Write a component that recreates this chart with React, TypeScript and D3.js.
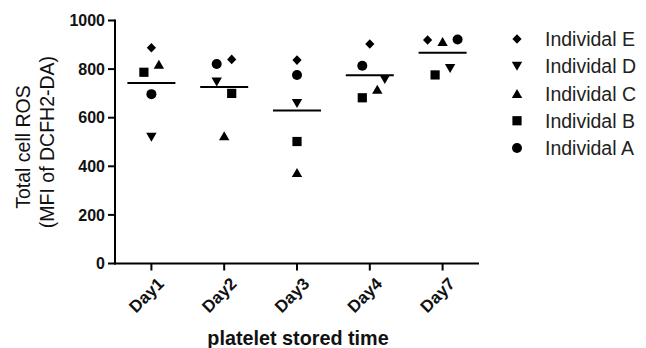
import React from "react";
import * as d3 from "d3";

const days = ["Day1", "Day2", "Day3", "Day4", "Day7"];
const individuals = ["Individal E", "Individal D", "Individal C", "Individal B", "Individal A"];
const symbolsOf = ["diamond", "down", "up", "square", "circle"];
const valuesE = [888, 840, 837, 903, 920];
const valuesD = [520, 747, 659, 758, 803];
const valuesC = [820, 525, 374, 717, 913];
const valuesB = [787, 700, 502, 682, 776];
const valuesA = [697, 821, 776, 814, 922];
const series = [valuesE, valuesD, valuesC, valuesB, valuesA];
// horizontal scatter offsets (in symbol half-widths) per individual per day, as in the dot plot
const jitterE = [0, 1, 0, 0, -2];
const jitterD = [0, -1, 0, 2, 1];
const jitterC = [1, 0, 0, 1, 0];
const jitterB = [-1, 1, 0, -1, -1];
const jitterA = [0, -1, 0, -1, 2];
const jitter = [jitterE, jitterD, jitterC, jitterB, jitterA];
const yTicks = [0, 200, 400, 600, 800, 1000];

const W = 646, H = 348;
const FONT = "'Liberation Sans', Arial, Helvetica, sans-serif";

function Sym({ type, x, y }: { type: string; x: number; y: number }) {
  const r = 5;
  if (type === "circle") return <circle cx={x} cy={y} r={r} fill="#000" />;
  if (type === "square") return <rect x={x - 4.6} y={y - 4.6} width={9.2} height={9.2} fill="#000" />;
  let d = "";
  if (type === "diamond") d = `M${x},${y - 4.8}L${x + 4.6},${y}L${x},${y + 4.8}L${x - 4.6},${y}Z`;
  if (type === "up") d = `M${x},${y - 4.6}L${x + 5.2},${y + 4.4}L${x - 5.2},${y + 4.4}Z`;
  if (type === "down") d = `M${x},${y + 4.6}L${x + 5.2},${y - 4.4}L${x - 5.2},${y - 4.4}Z`;
  return <path d={d} fill="#000" />;
}

export default function App() {
  const x = d3.scalePoint<string>().domain(days).range([115, 479]).padding(0.5);
  const y = d3.scaleLinear().domain([0, 1000]).range([263.5, 20.5]);
  const step = 7.5;
  const means = days.map((_, di) => d3.mean(series.map((s) => s[di])) as number);
  const legendY = d3.scalePoint<string>().domain(individuals).range([39, 148]);

  return (
    <svg width={W} height={H} style={{ position: "absolute", left: 0, top: 0, background: "#fff" }} fontFamily={FONT}>
      {/* y axis */}
      <line x1={115} x2={115} y1={y(1000) - 1} y2={y(0) + 1} stroke="#000" strokeWidth={2} />
      {yTicks.map((t) => (
        <g key={t}>
          <line x1={108} x2={115} y1={y(t)} y2={y(t)} stroke="#000" strokeWidth={2} />
          <text x={105} y={y(t)} dy="0.36em" textAnchor="end" fontSize={16} fontWeight="bold" fill="#111">
            {t}
          </text>
        </g>
      ))}
      {/* x axis */}
      <line x1={114} x2={479} y1={y(0)} y2={y(0)} stroke="#000" strokeWidth={2} />
      {days.map((d) => (
        <g key={d}>
          <line x1={x(d)} x2={x(d)} y1={y(0)} y2={y(0) + 7} stroke="#000" strokeWidth={2} />
          <text
            transform={`translate(${(x(d) as number) + 5},${y(0) + 13}) rotate(-45)`}
            textAnchor="end"
            dy="0.7em"
            fontSize={17}
            fontWeight="bold"
            fill="#111"
          >
            {d}
          </text>
        </g>
      ))}
      {/* axis titles */}
      <text x={298} y={345} textAnchor="middle" fontSize={19.8} fontWeight="bold" fill="#111">
        platelet stored time
      </text>
      <g transform={`translate(30,0) rotate(-90)`}>
        <text x={-147} y={0} textAnchor="middle" fontSize={19.5} fill="#111">Total cell ROS</text>
        <text x={-142} y={24} textAnchor="middle" fontSize={19.5} fill="#111">(MFI of DCFH2-DA)</text>
      </g>
      {/* mean lines */}
      {days.map((d, di) => (
        <line key={d} x1={(x(d) as number) - 24} x2={(x(d) as number) + 24} y1={y(means[di])} y2={y(means[di])} stroke="#000" strokeWidth={2} />
      ))}
      {/* points */}
      {series.map((s, si) =>
        s.map((v, di) => (
          <Sym key={`${si}-${di}`} type={symbolsOf[si]} x={(x(days[di]) as number) + jitter[si][di] * step} y={y(v)} />
        ))
      )}
      {/* legend */}
      {individuals.map((name, i) => (
        <g key={name}>
          <Sym type={symbolsOf[i]} x={517} y={legendY(name) as number} />
          <text x={545} y={legendY(name) as number} dy="0.36em" fontSize={19.5} fill="#222">
            {name}
          </text>
        </g>
      ))}
    </svg>
  );
}
